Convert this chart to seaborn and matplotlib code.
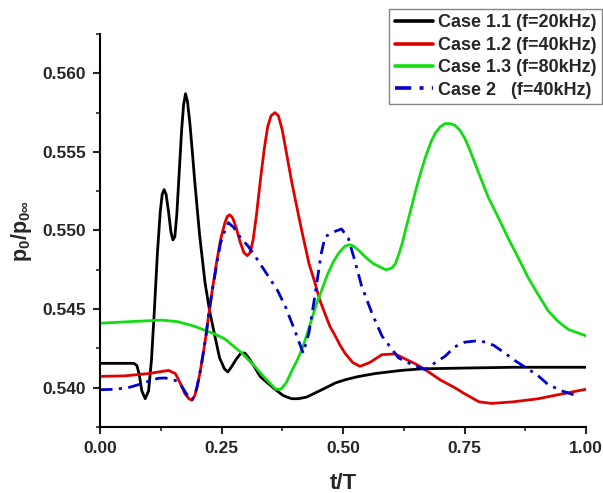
import numpy as np
import pandas as pd
import matplotlib
matplotlib.use("Agg")
import matplotlib.pyplot as plt
import seaborn as sns
from matplotlib.ticker import MultipleLocator

# ---- data ----
x_c11 = [0.00, 0.04, 0.07, 0.076, 0.081, 0.086, 0.093, 0.100, 0.106, 0.112, 0.118, 0.124, 0.128, 0.132,
         0.136, 0.141, 0.146, 0.150, 0.154, 0.158, 0.163, 0.168, 0.172, 0.176, 0.180, 0.185, 0.190, 0.195,
         0.205, 0.216, 0.226, 0.237, 0.246, 0.256, 0.263, 0.270, 0.280, 0.290, 0.298, 0.306, 0.318, 0.330,
         0.345, 0.360, 0.377, 0.394, 0.408, 0.425, 0.445, 0.465, 0.484, 0.504, 0.530, 0.566, 0.62, 0.662,
         0.75, 0.85, 1.0]
y_c11 = [0.54155, 0.54155, 0.54155, 0.5414, 0.5408, 0.5398, 0.5393, 0.5398, 0.5418, 0.5450, 0.5485,
         0.5512, 0.5523, 0.5526, 0.5523, 0.5512, 0.5499, 0.5494, 0.5496, 0.5510, 0.5537, 0.5564, 0.5580,
         0.5587, 0.5582, 0.5568, 0.5550, 0.5531, 0.5497, 0.5467, 0.5448, 0.5432, 0.5419, 0.5412, 0.5410,
         0.5413, 0.5418, 0.5422, 0.5422, 0.5419, 0.5413, 0.5407, 0.5403, 0.5399, 0.5395, 0.5393, 0.5393,
         0.5394, 0.5397, 0.5400, 0.5403, 0.5405, 0.5407, 0.5409, 0.5411, 0.5412, 0.54125, 0.5413, 0.5413]

x_c12 = [0.00, 0.05, 0.10, 0.141, 0.155, 0.165, 0.175, 0.183, 0.189, 0.195, 0.200, 0.206, 0.212, 0.218,
         0.223, 0.231, 0.240, 0.248, 0.257, 0.262, 0.267, 0.273, 0.280, 0.288, 0.296, 0.303, 0.309, 0.315,
         0.322, 0.330, 0.338, 0.345, 0.352, 0.360, 0.367, 0.375, 0.385, 0.395, 0.405, 0.415, 0.430, 0.442,
         0.452, 0.463, 0.473, 0.484, 0.494, 0.504, 0.520, 0.535, 0.555, 0.580, 0.607, 0.630, 0.650, 0.669,
         0.70, 0.73, 0.751, 0.78, 0.806, 0.85, 0.902, 0.95, 1.0]
y_c12 = [0.54072, 0.54075, 0.5409, 0.5411, 0.5409, 0.5403, 0.5396, 0.5393, 0.5392, 0.5395, 0.5401, 0.5410,
         0.5421, 0.5433, 0.5445, 0.5462, 0.5480, 0.5494, 0.5505, 0.5509, 0.5510, 0.5508, 0.5502, 0.5493,
         0.5486, 0.5484, 0.5486, 0.5494, 0.5510, 0.5532, 0.5552, 0.5566, 0.5573, 0.5575, 0.5573, 0.5564,
         0.5547, 0.5530, 0.5515, 0.5500, 0.5479, 0.5467, 0.5456, 0.5447, 0.5439, 0.5433, 0.5427, 0.5422,
         0.5416, 0.54136, 0.5416, 0.5421, 0.54215, 0.5418, 0.5415, 0.54115, 0.5405, 0.5400, 0.5396, 0.5391,
         0.5390, 0.5391, 0.5393, 0.5396, 0.5399]

x_c13 = [0.00, 0.06, 0.127, 0.16, 0.195, 0.237, 0.257, 0.292, 0.320, 0.340, 0.352, 0.362, 0.372, 0.383,
         0.395, 0.405, 0.415, 0.425, 0.435, 0.445, 0.456, 0.468, 0.480, 0.492, 0.504, 0.514, 0.522, 0.530,
         0.540, 0.550, 0.562, 0.575, 0.588, 0.600, 0.608, 0.615, 0.622, 0.630, 0.641, 0.650, 0.660, 0.670,
         0.682, 0.690, 0.700, 0.710, 0.720, 0.730, 0.740, 0.750, 0.760, 0.770, 0.780, 0.799, 0.820, 0.840,
         0.860, 0.881, 0.900, 0.922, 0.943, 0.964, 0.982, 1.0]
y_c13 = [0.5441, 0.5442, 0.5443, 0.5442, 0.5439, 0.5434, 0.5431, 0.5422, 0.5413, 0.5406, 0.5402, 0.5399,
         0.5399, 0.5403, 0.5411, 0.5417, 0.5424, 0.5433, 0.5443, 0.5453, 0.5462, 0.5472, 0.5480, 0.5486,
         0.5490, 0.5491, 0.5490, 0.5488, 0.5485, 0.5482, 0.5479, 0.5477, 0.5475, 0.5476, 0.5479, 0.5485,
         0.5492, 0.5502, 0.5515, 0.5526, 0.5537, 0.5547, 0.5557, 0.5562, 0.5566, 0.5568, 0.5568, 0.5567,
         0.5564, 0.5559, 0.5552, 0.5544, 0.5536, 0.5521, 0.5508, 0.5495, 0.5483, 0.5470, 0.5460, 0.5449,
         0.5442, 0.5437, 0.5435, 0.5433]

x_c2 = [0.00, 0.03, 0.058, 0.080, 0.099, 0.120, 0.134, 0.150, 0.161, 0.170, 0.180, 0.189, 0.195, 0.200,
        0.206, 0.212, 0.218, 0.223, 0.231, 0.240, 0.248, 0.257, 0.264, 0.275, 0.290, 0.305, 0.325, 0.346,
        0.365, 0.381, 0.400, 0.418, 0.430, 0.442, 0.455, 0.463, 0.480, 0.497, 0.511, 0.525, 0.538, 0.560,
        0.580, 0.614, 0.640, 0.669, 0.690, 0.710, 0.730, 0.751, 0.782, 0.810, 0.833, 0.855, 0.875, 0.900,
        0.922, 0.950, 0.984]
y_c2 = [0.53987, 0.5399, 0.5400, 0.5402, 0.5404, 0.5406, 0.54062, 0.5405, 0.5404, 0.5400, 0.5395, 0.5392,
        0.5395, 0.5401, 0.5410, 0.5421, 0.5433, 0.5445, 0.5462, 0.5478, 0.5492, 0.5500, 0.5505, 0.5502,
        0.5495, 0.5490, 0.5481, 0.5471, 0.5462, 0.5452, 0.5437, 0.5422, 0.5435, 0.5458, 0.5485, 0.5496,
        0.5499, 0.5501, 0.5495, 0.5480, 0.5465, 0.5447, 0.5433, 0.5419, 0.5415, 0.54115, 0.5416, 0.5420,
        0.5426, 0.5429, 0.5430, 0.5427, 0.5422, 0.5417, 0.5413, 0.5408, 0.5402, 0.5398, 0.53945]

labels = ["Case 1.1 (f=20kHz)", "Case 1.2 (f=40kHz)", "Case 1.3 (f=80kHz)", "Case 2   (f=40kHz)"]
x_ticks = [0.00, 0.25, 0.50, 0.75, 1.00]
y_ticks = [0.540, 0.545, 0.550, 0.555, 0.560]

# ---- style ----
sns.set_style("ticks")
plt.rcParams["font.family"] = ["Liberation Sans", "DejaVu Sans"]
plt.rcParams["font.weight"] = "bold"
plt.rcParams["mathtext.fontset"] = "custom"
plt.rcParams["mathtext.rm"] = "Liberation Sans:bold"
plt.rcParams["mathtext.it"] = "Liberation Sans:bold"
plt.rcParams["mathtext.bf"] = "Liberation Sans:bold"

fig = plt.figure(figsize=(6.03, 4.93), dpi=100)
ax = fig.add_axes([100 / 603, 1 - 427 / 493, 486 / 603, (427 - 34) / 493])

series = [(x_c11, y_c11, "#000000", "-"),
          (x_c12, y_c12, "#e00000", "-"),
          (x_c13, y_c13, "#11dd11", "-"),
          (x_c2, y_c2, "#0000d0", "dashdot")]

for (xs, ys, col, ls), lab in zip(series, labels):
    df = pd.DataFrame({"t": xs, "p": ys})
    line_kw = dict(dashes=(4.5, 2.3, 1.1, 2.3)) if ls == "dashdot" else {}
    sns.lineplot(data=df, x="t", y="p", ax=ax, color=col, linewidth=2.0,
                 label=lab, sort=False, estimator=None, **line_kw)

ax.set_xlim(0, 1.0)
ax.set_ylim(0.5375, 0.5625)
ax.set_xticks(x_ticks)
ax.set_xticklabels([f"{v:.2f}" for v in x_ticks])
ax.set_yticks(y_ticks)
ax.set_yticklabels([f"{v:.3f}" for v in y_ticks])
ax.xaxis.set_minor_locator(MultipleLocator(0.125))
ax.yaxis.set_minor_locator(MultipleLocator(0.0025))
ax.tick_params(which="major", direction="out", length=5, width=1.5, labelsize=12.5, pad=5)
ax.tick_params(which="minor", direction="out", length=3, width=1.2)
for lbl in ax.get_xticklabels() + ax.get_yticklabels():
    lbl.set_fontweight("bold")

sns.despine(ax=ax)
for s in ["left", "bottom"]:
    ax.spines[s].set_linewidth(1.5)
    ax.spines[s].set_color("black")

ax.set_xlabel("t/T", fontsize=16, fontweight="bold", labelpad=12)
ax.set_ylabel(r"p$_0$/p$_{0\infty}$", fontsize=15.5, fontweight="bold", labelpad=6)

leg = ax.legend(loc="upper right", bbox_to_anchor=(602 / 603, 1 - 9 / 493),
                bbox_transform=fig.transFigure, borderaxespad=0, frameon=True,
                fancybox=False, prop={"weight": "bold", "size": 13},
                handlelength=2.1, handletextpad=0.3, labelspacing=0.3,
                borderpad=0.3)
leg.get_frame().set_edgecolor("#666666")
leg.get_frame().set_linewidth(1.0)
for h in leg.get_lines():
    h.set_linewidth(2.6)

fig.savefig("out.png", dpi=100)
